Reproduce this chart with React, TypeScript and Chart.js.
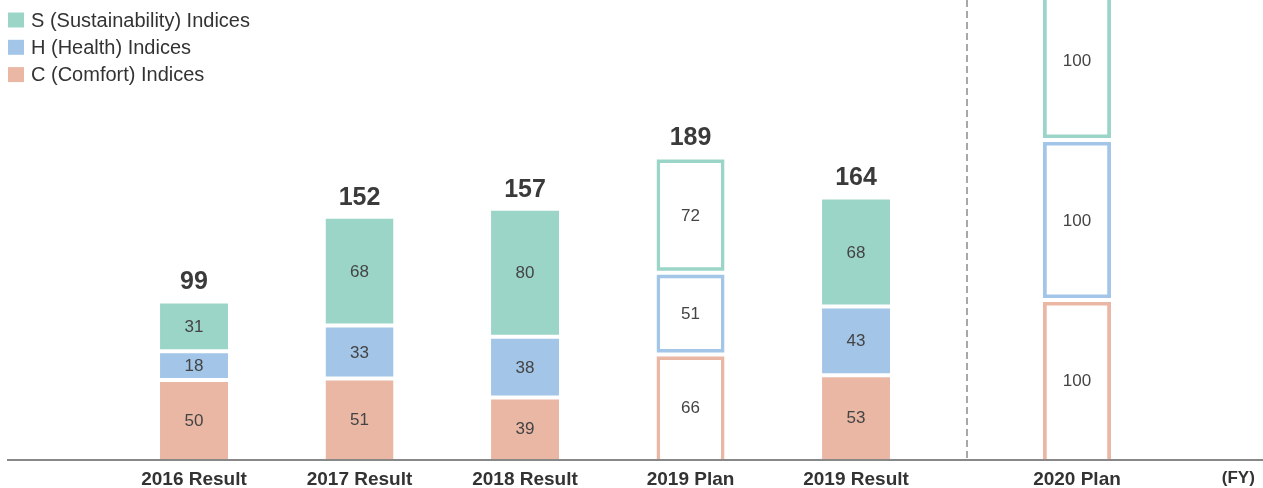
import React, { useEffect, useRef } from 'react';
import { Chart, registerables } from 'chart.js';

Chart.register(...registerables);

// ---- data ----
const categories = ['2016 Result', '2017 Result', '2018 Result', '2019 Plan', '2019 Result', '2020 Plan'];
const categoryPositions = [0, 1, 2, 3, 4, 5.335];
const isPlan = [false, false, false, true, false, true];
const comfortValues = [50, 51, 39, 66, 53, 100];
const healthValues = [18, 33, 38, 51, 43, 100];
const sustainabilityValues = [31, 68, 80, 72, 68, 100];
const seriesLabels = ['C (Comfort) Indices', 'H (Health) Indices', 'S (Sustainability) Indices'];
const fyLabel = '(FY)';
const fyPosition = 6.31;
const dividerPosition = 4.67;

const series = [comfortValues, healthValues, sustainabilityValues];
const colors = ['#eab7a5', '#a3c5e8', '#9bd5c8'];
const FONT = '"Liberation Sans", Arial, Helvetica, sans-serif';

export default function App() {
  const ref = useRef<HTMLCanvasElement>(null);

  useEffect(() => {
    if (!ref.current) return;
    Chart.defaults.font.family = FONT;

    const fillLayer = series.map((vals, si) => ({
      label: seriesLabels[si],
      data: vals.map((v, i) => ({ x: categoryPositions[i], y: v })),
      backgroundColor: colors[si],
      borderColor: '#ffffff',
      borderWidth: { top: 2, bottom: si === 0 ? 0 : 2, left: 0, right: 0 },
      borderSkipped: false,
      barThickness: 68,
      grouped: false,
      stack: 'fill',
      order: 1,
      inflateAmount: 0,
    }));

    const innerLayer = series.map((vals, si) => ({
      label: 'inner-' + si,
      data: vals
        .map((v, i) => ({ x: categoryPositions[i], y: v }))
        .filter((_, i) => isPlan[i]),
      backgroundColor: '#ffffff',
      borderColor: 'rgba(0,0,0,0)',
      borderWidth: { top: 5.5, bottom: si === 0 ? 0 : 5.5, left: 0, right: 0 },
      borderSkipped: false,
      barThickness: 61,
      grouped: false,
      stack: 'inner',
      order: 0,
      inflateAmount: 0,
    }));

    const overlay = {
      id: 'overlay',
      afterDatasetsDraw(chart: any) {
        const ctx = chart.ctx;
        const xs = chart.scales.x;
        const ys = chart.scales.y;
        const area = chart.chartArea;
        // divider
        ctx.save();
        ctx.strokeStyle = '#8c8c8c';
        ctx.lineWidth = 1.5;
        ctx.setLineDash([7, 4]);
        const dx = Math.round(xs.getPixelForValue(dividerPosition));
        ctx.beginPath();
        ctx.moveTo(dx, area.top);
        ctx.lineTo(dx, area.bottom);
        ctx.stroke();
        ctx.restore();

        // segment labels
        ctx.save();
        ctx.fillStyle = '#444444';
        ctx.font = `17px ${FONT}`;
        ctx.textAlign = 'center';
        ctx.textBaseline = 'middle';
        for (let si = 0; si < 3; si++) {
          const meta = chart.getDatasetMeta(si);
          meta.data.forEach((el: any, i: number) => {
            const p = el.getProps(['x', 'y', 'base'], true);
            ctx.fillText(String(series[si][i]), p.x, (p.y + p.base) / 2 + 1);
          });
        }
        // totals
        ctx.fillStyle = '#3a3a3a';
        ctx.font = `bold 25px ${FONT}`;
        categories.forEach((_, i) => {
          const total = comfortValues[i] + healthValues[i] + sustainabilityValues[i];
          const px = xs.getPixelForValue(categoryPositions[i]);
          const py = ys.getPixelForValue(total) - 19;
          if (py < area.top + 10) return;
          ctx.fillText(String(total), px, py);
        });
        ctx.restore();
      },
      afterDraw(chart: any) {
        const ctx = chart.ctx;
        ctx.save();
        ctx.font = `20px ${FONT}`;
        ctx.textBaseline = 'middle';
        ctx.textAlign = 'left';
        const order = [2, 1, 0];
        order.forEach((si, row) => {
          const cy = 20 + row * 27.3;
          ctx.fillStyle = colors[si];
          ctx.fillRect(8, cy - 7.5, 16, 15);
          ctx.fillStyle = '#333333';
          ctx.fillText(seriesLabels[si], 31, cy + 1);
        });
        ctx.restore();
      },
    };

    const chart = new Chart(ref.current, {
      type: 'bar',
      data: { datasets: [...fillLayer, ...innerLayer] as any },
      options: {
        animation: false,
        responsive: false,
        devicePixelRatio: 1,
        layout: { padding: { left: 8, right: 0, top: 0, bottom: 0 } },
        plugins: { legend: { display: false }, tooltip: { enabled: false } },
        scales: {
          x: {
            type: 'linear',
            offset: false,
            min: -1.124,
            max: 6.459,
            stacked: true,
            grid: { display: false, drawTicks: false, offset: false },
            border: { display: true, color: '#888888', width: 2, z: 1 },
            afterBuildTicks: (scale: any) => {
              scale.ticks = [...categoryPositions, fyPosition].map((v) => ({ value: v }));
            },
            afterFit: (scale: any) => {
              scale.height = 28;
            },
            ticks: {
              autoSkip: false,
              maxRotation: 0,
              minRotation: 0,
              padding: 8,
              color: '#333333',
              font: (c: any) => ({
                family: FONT,
                size: c.tick && c.tick.value === fyPosition ? 17 : 19,
                weight: 'bold',
              }),
              callback: (value: any) => {
                const idx = categoryPositions.indexOf(Number(value));
                if (idx >= 0) return categories[idx];
                if (Number(value) === fyPosition) return fyLabel;
                return '';
              },
            },
          },
          y: {
            display: false,
            stacked: true,
            min: 0,
            max: 287.5,
          },
        },
      } as any,
      plugins: [overlay],
    });

    return () => chart.destroy();
  }, []);

  return (
    <div style={{ position: 'fixed', left: 0, top: 0, width: 1263, height: 488, background: '#ffffff' }}>
      <canvas ref={ref} width={1263} height={488} style={{ display: 'block' }} />
    </div>
  );
}
